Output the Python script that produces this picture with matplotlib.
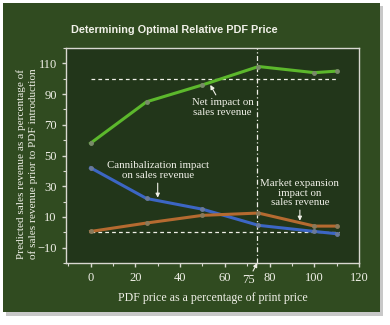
"""
Optimal relative PDF price chart
"""
import matplotlib.pyplot as plt
from matplotlib.patches import Rectangle
from matplotlib.ticker import MultipleLocator

# data
price = [0, 25, 50, 75, 100, 110]
net = [58, 85, 96, 108, 104, 105]
cannibal = [42, 22, 15, 4.5, 0.5, -1]
expansion = [0.5, 6, 11, 12.5, 4, 4]

serif = ['Liberation Serif', 'DejaVu Serif']
fg = '#f0f0e8'

fig = plt.figure(figsize=(3.9, 3.25), dpi=100)
fig.patch.set_facecolor('white')

# shadow + panel
fig.patches.append(Rectangle((6/390, 1 - 316/325), 377/390, 310/325,
                             transform=fig.transFigure, facecolor='#c8c8c8',
                             edgecolor='none', zorder=-3))
fig.patches.append(Rectangle((3/390, 1 - 312/325), 377/390, 309/325,
                             transform=fig.transFigure, facecolor='#304b20',
                             edgecolor='none', zorder=-2))

ax = fig.add_axes([0.169, 0.191, 0.752, 0.661])
ax.set_facecolor('#22361a')
for s in ax.spines.values():
    s.set_color('#d8d8d0')
    s.set_linewidth(1.0)

ax.plot(price, net, color='#5cb82c', lw=2.2, marker='o', ms=2.5,
        mfc='#7a8a6a', mec='#7a8a6a', zorder=3)
ax.plot(price, cannibal, color='#3c66c4', lw=2.2, marker='o', ms=2.5,
        mfc='#6a7a9a', mec='#6a7a9a', zorder=3)
ax.plot(price, expansion, color='#b56a30', lw=2.2, marker='o', ms=2.5,
        mfc='#8a7a5a', mec='#8a7a5a', zorder=3)

ax.plot([0, 110], [100, 100], color=fg, lw=0.9, ls=(0, (3, 2.5)), zorder=2)
ax.plot([0, 111], [0, 0], color=fg, lw=0.9, ls=(0, (3, 2.5)), zorder=2)
ax.axvline(74.5, color=fg, lw=0.9, ls=(0, (4, 2, 1, 2)), zorder=2)

ax.set_xlim(-11, 120)
ax.set_ylim(-20, 120)
ax.xaxis.set_major_locator(MultipleLocator(20))
ax.xaxis.set_minor_locator(MultipleLocator(10))
ax.set_yticks([-10, 10, 30, 50, 70, 90, 110])
ax.yaxis.set_minor_locator(MultipleLocator(10))
ax.tick_params(which='both', colors='#d8d8d0', labelcolor=fg, direction='out')
ax.tick_params(which='major', length=3, width=1)
ax.tick_params(which='minor', length=2, width=0.8)
ax.set_yticklabels(['\u221210', '10', '30', '50', '70', '90', '110'])
for lab in ax.get_xticklabels() + ax.get_yticklabels():
    lab.set_family(serif)
    lab.set_fontsize(9)

ax.set_xlabel('PDF price as a percentage of print price', color=fg,
              family=serif, fontsize=8.6, labelpad=6)
ax.set_ylabel('Predicted sales revenue as a percentage of\nof sales revenue prior to PDF introduction',
              color=fg, family=serif, fontsize=8.1, linespacing=1.25)
ax.yaxis.set_label_coords(-0.095, 0.46)

aprops = dict(arrowstyle='-|>', color=fg, lw=0.8, mutation_scale=6,
              shrinkA=0, shrinkB=0)
ax.annotate('Net impact on\nsales revenue', xy=(53.5, 96), xytext=(59, 81.5),
            ha='center', va='center', color=fg, family=serif, fontsize=7.8,
            linespacing=1.15, arrowprops=aprops)
ax.annotate('Cannibalization impact\non sales revenue', xy=(30, 22.5),
            xytext=(30, 40), ha='center', va='center', color=fg,
            family=serif, fontsize=7.8, linespacing=1.15, arrowprops=aprops)
ax.annotate('Market expansion\nimpact on\nsales revenue', xy=(93.5, 7.5),
            xytext=(93.5, 25.5), ha='center', va='center', color=fg,
            family=serif, fontsize=7.8, linespacing=1.1, arrowprops=aprops)
ax.annotate('75', xy=(74.5, -20), xytext=(70.5, -31), ha='center',
            va='center', color=fg, family=serif, fontsize=9,
            annotation_clip=False, arrowprops=aprops)

fig.text(0.447, 0.908, 'Determining Optimal Relative PDF Price', color=fg,
         family=['Liberation Sans', 'DejaVu Sans'], weight='bold',
         fontsize=7.8, ha='center', va='center')

fig.savefig('out.png', dpi=100, facecolor=fig.get_facecolor())
